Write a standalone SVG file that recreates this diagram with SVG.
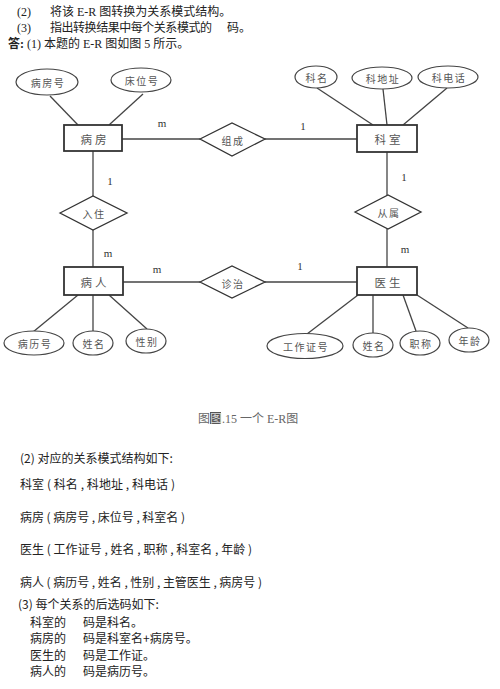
<svg xmlns="http://www.w3.org/2000/svg" width="500" height="689" viewBox="0 0 500 689">
<style>
.t{font-family:"Liberation Serif","Noto Sans CJK SC",serif;font-size:12px;fill:#222}
.s{font-family:"Noto Sans CJK SC",sans-serif;font-size:12px;fill:#222}
.n{font-family:"Noto Sans CJK SC",sans-serif;font-size:11.5px;fill:#555;text-anchor:middle;dominant-baseline:central;letter-spacing:3px}
.a{font-family:"Noto Sans CJK SC",sans-serif;font-size:10px;fill:#555;text-anchor:middle;dominant-baseline:central;letter-spacing:1.5px}
.c{font-family:"Liberation Serif",serif;font-size:11px;fill:#333;text-anchor:middle;dominant-baseline:central}
.e{fill:#fff;stroke:#333;stroke-width:1.8}
.d{fill:#fff;stroke:#333;stroke-width:1.3}
.o{fill:#fff;stroke:#444;stroke-width:1.2}
.l{stroke:#444;stroke-width:1.3;fill:none}
</style>
<rect width="500" height="689" fill="#fff"/>
<g id="header">
<text class="t" x="17" y="16">(2)</text>
<text class="t" x="50" y="16">将该 E-R 图转换为关系模式结构。</text>
<text class="t" x="17" y="32">(3)</text>
<text class="t" x="50" y="32" textLength="162">指出转换结果中每个关系模式的</text>
<text class="t" x="227" y="32">码。</text>
<text class="t" x="8" y="48" font-weight="bold">答:</text>
<text class="t" x="27" y="48">(1) 本题的 E-R 图如图 5 所示。</text>
</g>
<g id="connectors">
<line class="l" x1="122" y1="139" x2="200" y2="139"/>
<line class="l" x1="265" y1="139" x2="357" y2="139"/>
<line class="l" x1="93" y1="151" x2="93" y2="196"/>
<line class="l" x1="93" y1="230" x2="93" y2="267"/>
<line class="l" x1="387" y1="152" x2="387" y2="195"/>
<line class="l" x1="387" y1="229" x2="387" y2="267"/>
<line class="l" x1="123" y1="282" x2="200" y2="282"/>
<line class="l" x1="265" y1="282" x2="357" y2="282"/>
<line class="l" x1="50" y1="96" x2="78" y2="125"/>
<line class="l" x1="143" y1="94" x2="109" y2="125"/>
<line class="l" x1="317" y1="88" x2="373" y2="125"/>
<line class="l" x1="383" y1="89" x2="387" y2="125"/>
<line class="l" x1="447" y1="88" x2="403" y2="125"/>
<line class="l" x1="33" y1="332" x2="78" y2="295"/>
<line class="l" x1="93" y1="295" x2="93" y2="331"/>
<line class="l" x1="147" y1="329" x2="109" y2="295"/>
<line class="l" x1="307" y1="334" x2="358" y2="295"/>
<line class="l" x1="373" y1="295" x2="373" y2="333"/>
<line class="l" x1="416" y1="331" x2="403" y2="295"/>
<line class="l" x1="468" y1="328" x2="417" y2="295"/>
<text class="c" x="162" y="123">m</text>
<text class="c" x="303" y="126">1</text>
<text class="c" x="110" y="181">1</text>
<text class="c" x="108" y="253">m</text>
<text class="c" x="157" y="269">m</text>
<text class="c" x="404" y="177">1</text>
<text class="c" x="405" y="249">m</text>
<text class="c" x="300" y="266">1</text>
</g>
<g id="e_bingfang"><rect class="e" x="64" y="125" width="58" height="26"/><text class="n" x="95" y="139">病房</text></g>
<g id="e_keshi"><rect class="e" x="357" y="125" width="60" height="27"/><text class="n" x="389" y="139">科室</text></g>
<g id="e_bingren"><rect class="e" x="64" y="267" width="59" height="28"/><text class="n" x="95" y="282">病人</text></g>
<g id="e_yisheng"><rect class="e" x="357" y="267" width="60" height="28"/><text class="n" x="389" y="282">医生</text></g>
<g id="r_zucheng"><polygon class="d" points="200,139 232,123 265,139 232,156"/><text class="a" x="233" y="140">组成</text></g>
<g id="r_ruzhu"><polygon class="d" points="60,213 93,196 127,213 93,230"/><text class="a" x="94" y="213">入住</text></g>
<g id="r_congshu"><polygon class="d" points="355,212 388,195 421,212 388,229"/><text class="a" x="389" y="212">从属</text></g>
<g id="r_zhenzhi"><polygon class="d" points="200,282 232,266 265,282 232,298"/><text class="a" x="233" y="283">诊治</text></g>
<g id="a_bingfanghao"><ellipse class="o" cx="47" cy="82" rx="31" ry="13"/><text class="a" x="48" y="82">病房号</text></g>
<g id="a_chuangweihao"><ellipse class="o" cx="141" cy="80" rx="30" ry="12"/><text class="a" x="142" y="80">床位号</text></g>
<g id="a_keming"><ellipse class="o" cx="316" cy="77" rx="21" ry="11"/><text class="a" x="317" y="77">科名</text></g>
<g id="a_kedizhi"><ellipse class="o" cx="382" cy="78" rx="30" ry="11"/><text class="a" x="383" y="78">科地址</text></g>
<g id="a_kedianhua"><ellipse class="o" cx="448" cy="77" rx="30" ry="11"/><text class="a" x="449" y="77">科电话</text></g>
<g id="a_binglihao"><ellipse class="o" cx="34" cy="343" rx="30" ry="12"/><text class="a" x="35" y="343">病历号</text></g>
<g id="a_xingming1"><ellipse class="o" cx="93" cy="343" rx="20" ry="12"/><text class="a" x="94" y="343">姓名</text></g>
<g id="a_xingbie"><ellipse class="o" cx="146" cy="341" rx="20" ry="12"/><text class="a" x="147" y="341">性别</text></g>
<g id="a_gongzuozheng"><ellipse class="o" cx="305" cy="346" rx="38" ry="12.5"/><text class="a" x="306" y="346">工作证号</text></g>
<g id="a_xingming2"><ellipse class="o" cx="373" cy="345" rx="20" ry="12"/><text class="a" x="374" y="345">姓名</text></g>
<g id="a_zhicheng"><ellipse class="o" cx="420" cy="343" rx="20" ry="12"/><text class="a" x="421" y="343">职称</text></g>
<g id="a_nianling"><ellipse class="o" cx="469" cy="340" rx="20" ry="12"/><text class="a" x="470" y="340">年龄</text></g>
<g id="caption">
<rect x="210" y="412" width="11" height="12" fill="#555"/>
<text x="198" y="423" font-family="Liberation Serif,'Noto Sans CJK SC',serif" font-size="12" fill="#666">图<tspan fill="#ddd">图</tspan>.15  一个 E-R图</text>
</g>
<g id="body">
<text class="s" x="20" y="463">(2) 对应的关系模式结构如下:</text>
<text class="s" x="20" y="489" textLength="155">科室 ( 科名 , 科地址 , 科电话 )</text>
<text class="s" x="20" y="522" textLength="165">病房 ( 病房号 , 床位号 , 科室名 )</text>
<text class="s" x="20" y="554" textLength="232">医生 ( 工作证号 , 姓名 , 职称 , 科室名 , 年龄 )</text>
<text class="s" x="20" y="587" textLength="242">病人 ( 病历号 , 姓名 , 性别 , 主管医生 , 病房号 )</text>
<text class="s" x="18" y="609">(3) 每个关系的后选码如下:</text>
<text class="s" x="30" y="627">科室的</text><text class="s" x="83" y="627">码是科名。</text>
<text class="s" x="30" y="643">病房的</text><text class="s" x="83" y="643">码是科室名+病房号。</text>
<text class="s" x="30" y="660">医生的</text><text class="s" x="83" y="660">码是工作证。</text>
<text class="s" x="30" y="676">病人的</text><text class="s" x="83" y="676">码是病历号。</text>
</g>
</svg>
